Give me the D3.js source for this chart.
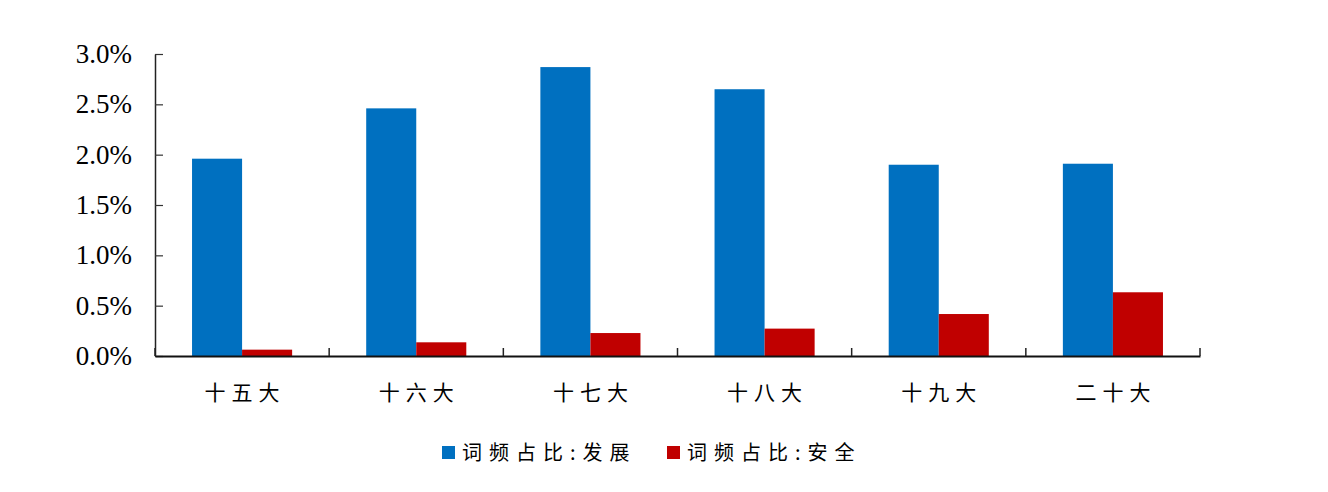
<!DOCTYPE html>
<html><head><meta charset="utf-8">
<script src="https://cdn.jsdelivr.net/npm/d3@7"></script>
<style>html,body{margin:0;padding:0;background:#fff;}</style>
</head><body>
<svg id="c" width="1328" height="492"></svg>
<script>
const categories = ["十五大","十六大","十七大","十八大","十九大","二十大"];
const seriesNames = ["词频占比:发展","词频占比:安全"];
const develop = [1.96, 2.46, 2.87, 2.65, 1.90, 1.91];
const security = [0.063, 0.136, 0.228, 0.272, 0.417, 0.633];
const yTicks = [0, 0.5, 1.0, 1.5, 2.0, 2.5, 3.0];
const colors = ["#0070C0", "#C00000"];

const svg = d3.select("#c");
const mLeft = 155, mRight = 1200, mTop = 54, mBottom = 356;
const x = d3.scaleBand().domain(categories).range([mLeft, mRight]).paddingInner(0).paddingOuter(0);
const x1 = d3.scaleBand().domain(seriesNames).range([0, x.bandwidth()]).paddingInner(0).paddingOuter(0.74);
const y = d3.scaleLinear().domain([0, 3]).range([mBottom, mTop]);

const data = categories.map((c, i) => ({cat: c, vals: [develop[i], security[i]]}));
const g = svg.append("g");
g.selectAll("g.grp").data(data).join("g").attr("class","grp")
  .attr("transform", d => `translate(${x(d.cat)},0)`)
  .selectAll("rect").data(d => d.vals.map((v, k) => ({v, k})))
  .join("rect")
  .attr("x", d => x1(seriesNames[d.k]))
  .attr("width", x1.bandwidth())
  .attr("y", d => y(d.v))
  .attr("height", d => y(0) - y(d.v))
  .attr("fill", d => colors[d.k]);

// y axis
const yAxis = svg.append("g").attr("transform", `translate(${mLeft},0)`)
  .call(d3.axisLeft(y).tickValues(yTicks).tickSizeInner(-8).tickSizeOuter(0).tickPadding(23)
        .tickFormat(d => d.toFixed(1) + "%"));
yAxis.select(".domain").attr("stroke", "#222").attr("stroke-width", 1.5);
yAxis.selectAll(".tick line").attr("stroke", "#333").attr("stroke-width", 1.2);
yAxis.selectAll("text").attr("font-family", "'Liberation Serif', 'DejaVu Serif', serif")
  .attr("font-size", 27).attr("fill", "#000");

// x axis
const xAxis = svg.append("g").attr("transform", `translate(0,${mBottom})`)
  .call(d3.axisBottom(x).tickSize(0).tickPadding(0).tickFormat(""));
xAxis.select(".domain").attr("stroke", "#111").attr("stroke-width", 2.2);
xAxis.selectAll(".tick").remove();
const bounds = categories.map(c => x(c) + x.bandwidth()).concat([x(categories[0])]);
xAxis.selectAll("line.sep").data(bounds).join("line").attr("class","sep")
  .attr("x1", d => d).attr("x2", d => d).attr("y1", 0).attr("y2", -8)
  .attr("stroke", "#222").attr("stroke-width", 1.5);
svg.append("g").selectAll("text").data(categories).join("text")
  .attr("x", d => x(d) + x.bandwidth() / 2 + 3)
  .attr("y", 400)
  .attr("text-anchor", "middle")
  .attr("font-family", "'Noto Sans CJK SC', sans-serif")
  .attr("font-size", 21)
  .attr("letter-spacing", 6)
  .attr("fill", "#000")
  .text(d => d);

// legend
const legX = [442, 667];
const leg = svg.append("g").selectAll("g").data(seriesNames).join("g")
  .attr("transform", (d, i) => `translate(${legX[i]},446)`);
leg.append("rect").attr("width", 13).attr("height", 13).attr("fill", (d, i) => colors[i]);
leg.append("text").attr("x", 20).attr("y", 14)
  .attr("font-family", "'Noto Sans CJK SC', sans-serif")
  .attr("font-size", 20).attr("letter-spacing", 7).attr("fill", "#000")
  .text(d => d);
</script>
</body></html>
